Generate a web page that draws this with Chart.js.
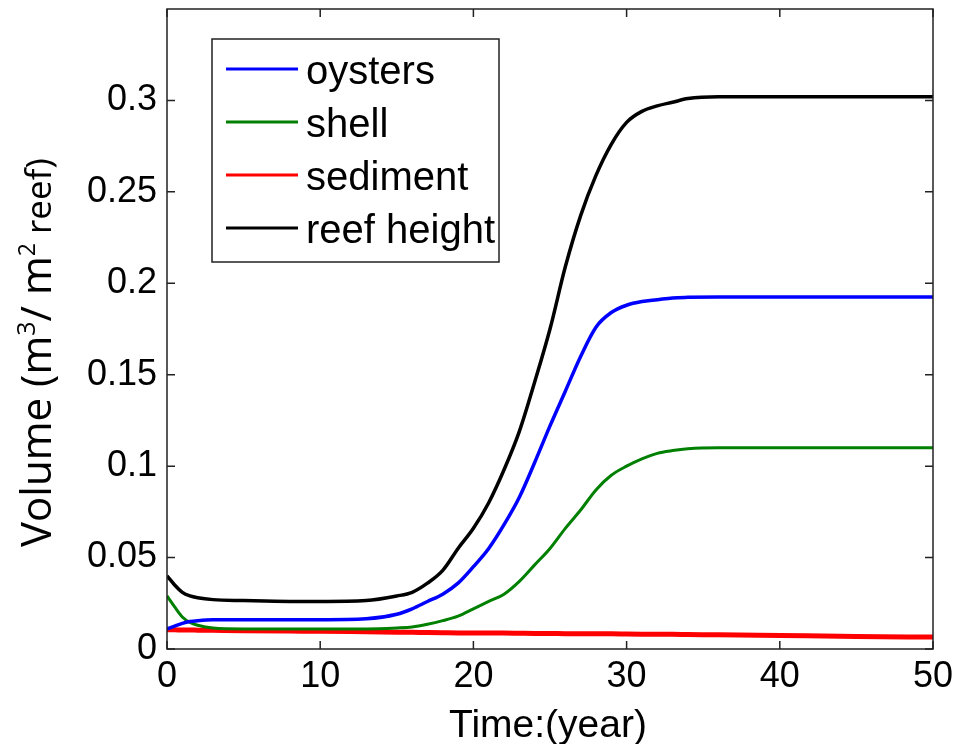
<!DOCTYPE html>
<html>
<head>
<meta charset="utf-8">
<script src="https://cdn.jsdelivr.net/npm/chart.js@4.4.0/dist/chart.umd.min.js"></script>
<style>
html, body { margin: 0; padding: 0; background: #fff; }
#wrap { width: 958px; height: 744px; position: relative; }
</style>
</head>
<body>
<div id="wrap"><canvas id="myChart"></canvas></div>
<script>
// time points (years) the curves were read at
const years = [0, 0.5, 1, 1.5, 2, 3, 5, 8, 10, 13, 15, 16, 17, 18, 19, 20, 21, 22, 23, 24, 25, 26, 27, 28, 29, 30, 31, 32, 33, 34, 36, 40, 45, 50]

// volumes, m3 per m2 reef
const oysters = [0.011, 0.0125, 0.014, 0.015, 0.0155, 0.016, 0.016, 0.016, 0.016, 0.0165, 0.019, 0.022, 0.026, 0.030, 0.036, 0.045, 0.055, 0.068, 0.083, 0.102, 0.122, 0.141, 0.160, 0.176, 0.184, 0.188, 0.190, 0.191, 0.192, 0.1923, 0.1925, 0.1925, 0.1925, 0.1925]
const shell = [0.029, 0.023, 0.0175, 0.0145, 0.013, 0.0115, 0.011, 0.011, 0.011, 0.011, 0.0115, 0.012, 0.0135, 0.0155, 0.018, 0.022, 0.026, 0.030, 0.037, 0.046, 0.055, 0.066, 0.076, 0.087, 0.095, 0.100, 0.104, 0.107, 0.1085, 0.1095, 0.110, 0.110, 0.110, 0.110]
const sediment = [0.0105, 0.0105, 0.0104, 0.0104, 0.0103, 0.0102, 0.0100, 0.0098, 0.0097, 0.0094, 0.0092, 0.0091, 0.0090, 0.0089, 0.0088, 0.0088, 0.0087, 0.0087, 0.0086, 0.0085, 0.0085, 0.0084, 0.0084, 0.0083, 0.0083, 0.0082, 0.0081, 0.0080, 0.0080, 0.0079, 0.0078, 0.0074, 0.0069, 0.0065]
const reefHeight = [0.040, 0.035, 0.031, 0.029, 0.028, 0.027, 0.0265, 0.026, 0.026, 0.0265, 0.029, 0.031, 0.036, 0.043, 0.055, 0.066, 0.080, 0.098, 0.119, 0.146, 0.175, 0.209, 0.237, 0.259, 0.276, 0.288, 0.294, 0.297, 0.299, 0.301, 0.302, 0.302, 0.302, 0.302]

const seriesNames = ["oysters", "shell", "sediment", "reef height"]

const xTicks = [0, 10, 20, 30, 40, 50]
const yTicks = [0, 0.05, 0.1, 0.15, 0.2, 0.25, 0.3]
const yTickLabels = ["0", "0.05", "0.1", "0.15", "0.2", "0.25", "0.3"]

const xTitle = "Time:(year)"
// y title pieces: text, font size, raise
const yTitleParts = [["Volume (m", 42, 0], ["3", 25, 16], ["/ m", 42, 0], ["2", 23, 16], [" reef)", 35, 0]]

function toPoints(vals) {
    return years.map((t, i) => ({ x: t, y: vals[i] }))
}

// no extra room for half tick labels at the ends
function noEdgePadding(s) {
    s.paddingTop = 0
    s.paddingBottom = 0
    s.paddingLeft = 0
    s.paddingRight = 0
}

// box round the plot, ticks pointing in, legend and axis titles
const framePlugin = {
    id: "frame",
    afterDraw(chart) {
        const ctx = chart.ctx
        const a = chart.chartArea
        const xs = chart.scales.x, ys = chart.scales.y
        ctx.save()
        ctx.strokeStyle = "#222"
        ctx.lineWidth = 1.5
        ctx.strokeRect(a.left, a.top, a.right - a.left, a.bottom - a.top)
        ctx.beginPath()
        xs.ticks.forEach(t => {
            const px = xs.getPixelForValue(t.value)
            ctx.moveTo(px, a.bottom); ctx.lineTo(px, a.bottom - 8)
            ctx.moveTo(px, a.top); ctx.lineTo(px, a.top + 8)
        })
        ys.ticks.forEach(t => {
            const py = ys.getPixelForValue(t.value)
            ctx.moveTo(a.left, py); ctx.lineTo(a.left + 8, py)
            ctx.moveTo(a.right, py); ctx.lineTo(a.right - 8, py)
        })
        ctx.stroke()

        // legend
        const bx = a.left + 45, by = a.top + 30, bw = 287, bh = 223
        ctx.fillStyle = "#fff"
        ctx.fillRect(bx, by, bw, bh)
        ctx.strokeStyle = "#222"
        ctx.lineWidth = 1.5
        ctx.strokeRect(bx, by, bw, bh)
        ctx.font = "40px 'Liberation Sans', Arial, sans-serif"
        ctx.textBaseline = "alphabetic"
        ctx.textAlign = "left"
        chart.data.datasets.forEach((ds, i) => {
            const ly = by + 30 + i * 53
            ctx.strokeStyle = ds.borderColor
            ctx.lineWidth = 3
            ctx.beginPath()
            ctx.moveTo(bx + 14, ly); ctx.lineTo(bx + 86, ly)
            ctx.stroke()
            ctx.fillStyle = "#000"
            ctx.fillText(ds.label, bx + 94, ly + 15)
        })

        // x title
        ctx.fillStyle = "#000"
        ctx.font = "39px 'Liberation Sans', Arial, sans-serif"
        ctx.textAlign = "center"
        ctx.fillText(xTitle, (a.left + a.right) / 2 - 2, 737)

        // y title, rotated, with superscripts
        ctx.translate(51, 547)
        ctx.rotate(-Math.PI / 2)
        ctx.textAlign = "left"
        let pos = 0
        yTitleParts.forEach(([txt, size, rise]) => {
            ctx.font = size + "px 'Open Sans', sans-serif"
            ctx.fillText(txt, pos, -rise)
            pos += ctx.measureText(txt).width
        })
        ctx.restore()
    }
}

const ctx = document.getElementById("myChart").getContext("2d")
const chart = new Chart(ctx, {
    type: "line",
    data: {
        datasets: [
            { label: seriesNames[0], data: toPoints(oysters), borderColor: "#0000ff", borderWidth: 3.5 },
            { label: seriesNames[1], data: toPoints(shell), borderColor: "#008000", borderWidth: 3 },
            { label: seriesNames[2], data: toPoints(sediment), borderColor: "#ff0000", borderWidth: 5 },
            { label: seriesNames[3], data: toPoints(reefHeight), borderColor: "#000000", borderWidth: 3.5 }
        ]
    },
    options: {
        responsive: true,
        maintainAspectRatio: false,
        animation: false,
        datasets: { line: { pointRadius: 0, fill: false, cubicInterpolationMode: "monotone" } },
        layout: { padding: { top: 9, right: 25, left: 0, bottom: 0 } },
        plugins: { legend: { display: false }, tooltip: { enabled: false } },
        scales: {
            x: {
                type: "linear",
                min: 0,
                max: 50,
                afterBuildTicks: s => { s.ticks = xTicks.map(v => ({ value: v })) },
                afterFit: s => { s.height = 95; noEdgePadding(s) },
                grid: { display: false, drawTicks: false },
                border: { display: false },
                ticks: { color: "#000", padding: 6, font: { family: "'Liberation Sans', Arial, sans-serif", size: 36 }, maxRotation: 0 }
            },
            y: {
                type: "linear",
                min: 0,
                max: 0.35,
                afterBuildTicks: s => { s.ticks = yTicks.map(v => ({ value: v })) },
                afterFit: s => { s.width = 167; noEdgePadding(s) },
                grid: { display: false, drawTicks: false },
                border: { display: false },
                ticks: {
                    color: "#000",
                    padding: 10,
                    font: { family: "'Liberation Sans', Arial, sans-serif", size: 36 },
                    callback: (v) => yTickLabels[yTicks.indexOf(v)]
                }
            }
        }
    },
    plugins: [framePlugin]
})
</script>
</body>
</html>
